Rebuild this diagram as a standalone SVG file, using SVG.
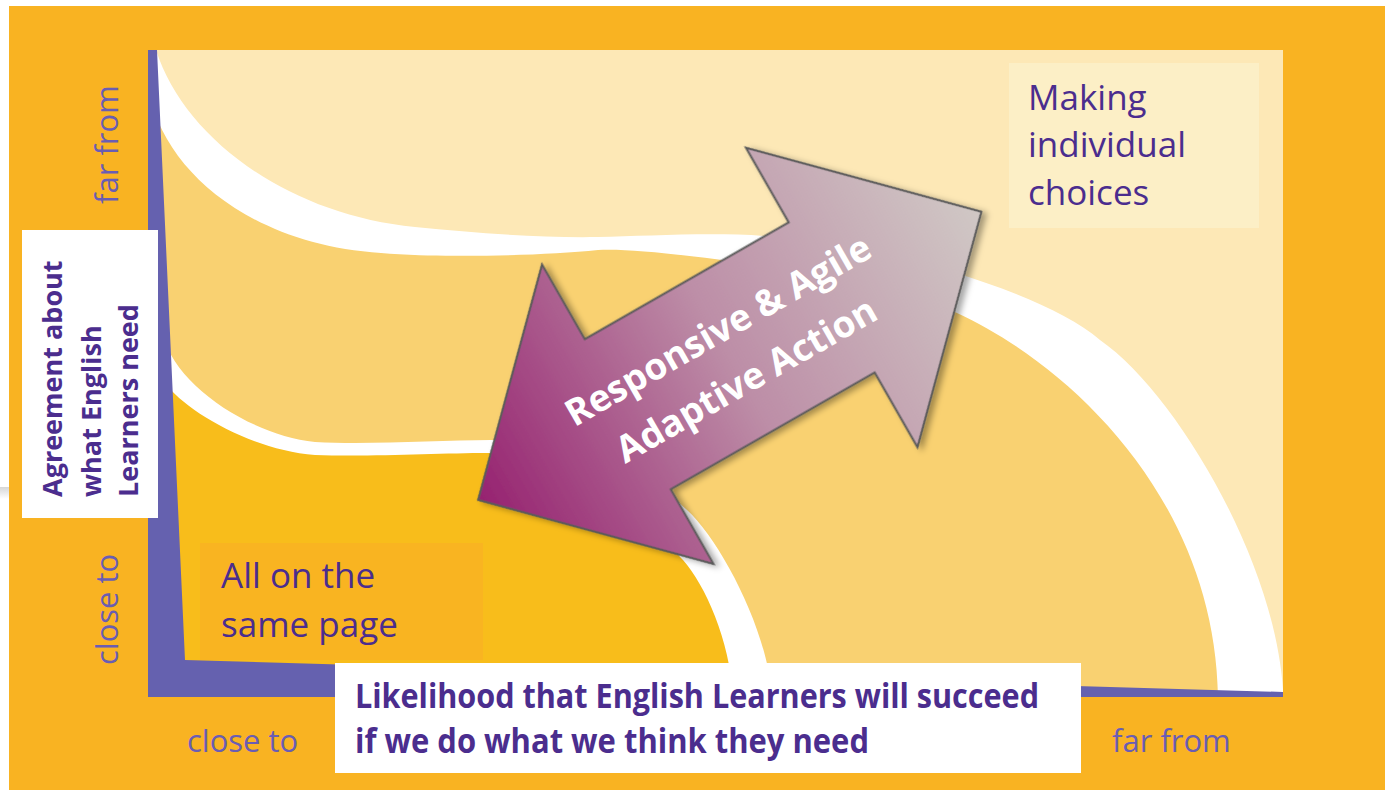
<svg xmlns="http://www.w3.org/2000/svg" width="1385" height="790" viewBox="0 0 1385 790">
  <defs>
    <style>
      .t { font-family: 'Open Sans', 'Noto Sans', 'Liberation Sans', sans-serif; }
      .dark { fill: #4B2D8E; font-size: 35px; }
      .bold { font-weight: 700; }
      .axis { fill: #6A5DB3; font-size: 31px; }
      .arrowtxt { fill: #FFFFFF; font-size: 37px; font-weight: 700; }
    </style>
    <linearGradient id="arrowGrad" gradientUnits="userSpaceOnUse" x1="-290" y1="0" x2="290" y2="0">
      <stop offset="0" stop-color="#962270"/>
      <stop offset="0.5" stop-color="#BD8EA7"/>
      <stop offset="1" stop-color="#D0C8C5"/>
    </linearGradient>
    <linearGradient id="greyShade" x1="0" y1="0" x2="0" y2="1">
      <stop offset="0" stop-color="#D6D6D6"/>
      <stop offset="1" stop-color="#FFFFFF"/>
    </linearGradient>
    <filter id="shadow" x="-20%" y="-20%" width="140%" height="140%">
      <feDropShadow dx="3" dy="4" stdDeviation="3" flood-color="#000000" flood-opacity="0.35"/>
    </filter>
  </defs>

  <!-- background frame -->
  <rect x="0" y="0" width="1385" height="790" fill="#FFFFFF"/>
  <rect x="0" y="487" width="9" height="12" fill="url(#greyShade)"/>
  <rect x="9" y="6" width="1376" height="784" fill="#F9B322"/>

  <!-- plot regions -->
  <g id="regions">
    <rect x="148" y="50" width="1135" height="647" fill="#FDE8B6"/>
    <path d="M148,50 L156,50 C185,140 290,215 415,227 C475,233 540,238 598,237 C656,236 740,230 800,240 C870,245 1040,288 1100,340 C1175,392 1275,560 1283,690 L1283,697 L148,697 Z" fill="#FFFFFF"/>
    <path d="M150,95 C165,170 250,245 381,253 C440,258 540,256 598,250 C660,246 897,283 957,313 C1070,365 1215,500 1218,697 L148,697 L148,95 Z" fill="#F9D171"/>
    <path d="M163,335 C175,385 250,435 315,442 C370,445 440,440 491,440 C560,440 647,470 687,510 C720,540 768,630 772,697 L148,697 L148,335 Z" fill="#FFFFFF"/>
    <path d="M165,383 C185,410 250,450 315,455 C370,457 440,453 488,453 C560,453 653,526 683,560 C705,585 730,640 733,697 L148,697 L148,383 Z" fill="#F8BD1B"/>
  </g>

  <!-- axes -->
  <g id="axes">
    <path d="M148,50 L157,50 L185,660 L1283,692 L1283,697 L148,697 Z" fill="#6561AF"/>
  </g>

  <g id="node-same-page">
    <rect x="200" y="543" width="283" height="117" fill="#F9B421"/>
    <text class="t dark" x="221" y="588">All on the</text>
    <text class="t dark" x="221" y="637">same page</text>
  </g>

  <g id="node-individual">
    <rect x="1009" y="63" width="250" height="165" fill="#FCEFC6"/>
    <text class="t dark" x="1028" y="110">Making</text>
    <text class="t dark" x="1028" y="157">individual</text>
    <text class="t dark" x="1028" y="205">choices</text>
  </g>

  <g id="connectors">
    <g transform="translate(729.75,355.85) rotate(-29.8)">
      <polygon points="290,0 117.5,-172.5 117.5,-86.5 -117.5,-86.5 -117.5,-172.5 -290,0 -117.5,172.5 -117.5,86.5 117.5,86.5 117.5,172.5" fill="url(#arrowGrad)" stroke="#5A5A5A" stroke-width="2" stroke-linejoin="miter" filter="url(#shadow)"/>
      <text class="t arrowtxt" x="2.5" y="-15" text-anchor="middle">Responsive &amp; Agile</text>
      <text class="t arrowtxt" x="2.5" y="42" text-anchor="middle">Adaptive Action</text>
    </g>
  </g>

  <g id="y-axis-label">
    <rect x="22" y="230" width="136" height="288" fill="#FFFFFF"/>
    <text class="t bold" fill="#4B2D8E" font-size="27" transform="translate(62,497) rotate(-90)">Agreement about</text>
    <text class="t bold" fill="#4B2D8E" font-size="27" transform="translate(101,497) rotate(-90)">what English</text>
    <text class="t bold" fill="#4B2D8E" font-size="27" transform="translate(138,497) rotate(-90)">Learners need</text>
  </g>

  <g id="x-axis-label">
    <rect x="335" y="663" width="746" height="110" fill="#FFFFFF"/>
    <text class="t bold" fill="#4B2D8E" font-size="34" x="355" y="708" textLength="684" lengthAdjust="spacingAndGlyphs">Likelihood that English Learners will succeed</text>
    <text class="t bold" fill="#4B2D8E" font-size="34" x="355" y="753" textLength="514" lengthAdjust="spacingAndGlyphs">if we do what we think they need</text>
  </g>

  <g id="axis-ticks">
    <text class="t axis" transform="translate(118,204) rotate(-90)">far from</text>
    <text class="t axis" transform="translate(118,665) rotate(-90)">close to</text>
    <text class="t axis" x="187" y="752">close to</text>
    <text class="t axis" x="1112" y="752">far from</text>
  </g>
</svg>
